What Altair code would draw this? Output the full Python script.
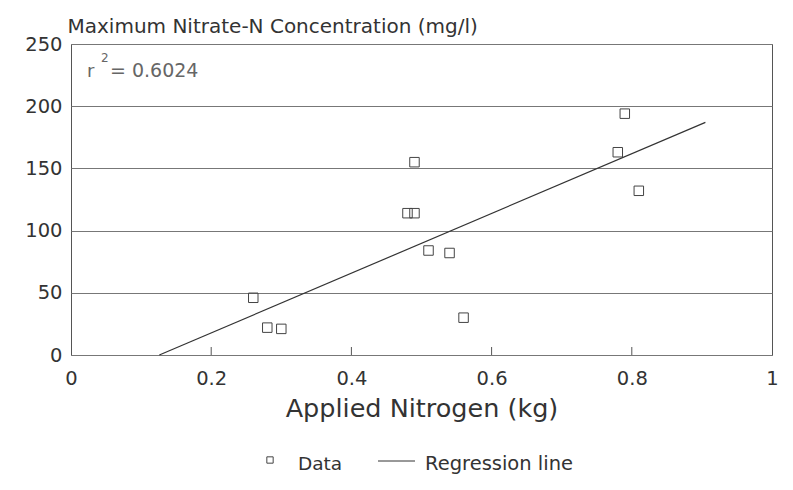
import altair as alt
import pandas as pd

# Data
applied_n = [0.26, 0.28, 0.30, 0.48, 0.49, 0.49, 0.51, 0.54, 0.56, 0.78, 0.79, 0.81]
nitrate = [46, 22, 21, 114, 114, 155, 84, 82, 30, 163, 194, 132]

reg_x = [0.126, 0.905]
reg_y = [0, 187]

x_ticks = [0.2, 0.4, 0.6, 0.8]
y_ticks = [0, 50, 100, 150, 200, 250]

title_text = "Maximum Nitrate-N Concentration (mg/l)"
x_title = "Applied Nitrogen (kg)"
r2_label = "= 0.6024"
legend_labels = ["Data", "Regression line"]

FONT = "DejaVu Sans"
TXT = "#333333"
W, H = 701, 311

pts = pd.DataFrame({"x": applied_n, "y": nitrate})
reg = pd.DataFrame({"x": reg_x, "y": reg_y})
ticks = pd.DataFrame({"x": x_ticks})

xscale = alt.Scale(domain=[0, 1], nice=False, zero=False)
yscale = alt.Scale(domain=[0, 250], nice=False)

xaxis = alt.Axis(values=[0, 0.2, 0.4, 0.6, 0.8, 1], format="~g", ticks=False, domain=False,
                 grid=False, labelFont=FONT, labelFontSize=19.5, labelColor=TXT,
                 labelPadding=14, labelFlush=False, title=x_title, titleFont=FONT,
                 titleFontSize=25.5, titleFontWeight="normal", titleColor=TXT, titlePadding=9)
yaxis = alt.Axis(values=y_ticks, ticks=False, domain=False, grid=True, gridColor="#777777",
                 gridWidth=1, labelFont=FONT, labelFontSize=19.5, labelColor=TXT,
                 labelPadding=9, title=title_text, titleFont=FONT, titleFontSize=20,
                 titleFontWeight="normal", titleColor=TXT, titleAngle=0, titleAlign="left",
                 titleBaseline="alphabetic", titleX=-4, titleY=-12)

line = alt.Chart(reg).mark_line(color="#333333", strokeWidth=1.2).encode(
    x=alt.X("x:Q", scale=xscale, axis=xaxis),
    y=alt.Y("y:Q", scale=yscale, axis=yaxis),
)

points = alt.Chart(pts).mark_point(shape="square", filled=False, size=90,
                                   color="#444444", strokeWidth=1, opacity=1).encode(
    x="x:Q", y="y:Q")

tick_marks = alt.Chart(ticks).mark_rule(color="#555555", strokeWidth=1).encode(
    x="x:Q", y=alt.value(H), y2=alt.value(H - 8))

r_txt = alt.Chart(pd.DataFrame({"t": ["r"]})).mark_text(
    font=FONT, fontSize=18, color="#666666", align="left", baseline="alphabetic").encode(
    x=alt.value(16), y=alt.value(33), text="t:N")
sup_txt = alt.Chart(pd.DataFrame({"t": ["2"]})).mark_text(
    font=FONT, fontSize=12, color="#666666", align="left", baseline="alphabetic").encode(
    x=alt.value(30), y=alt.value(18), text="t:N")
val_txt = alt.Chart(pd.DataFrame({"t": [r2_label]})).mark_text(
    font=FONT, fontSize=19, color="#666666", align="left", baseline="alphabetic").encode(
    x=alt.value(39), y=alt.value(33), text="t:N")

leg_sq = alt.Chart(pd.DataFrame({"t": [legend_labels[0]]})).mark_point(
    shape="square", filled=False, size=40, color="#444444", strokeWidth=1, opacity=1).encode(
    x=alt.value(199), y=alt.value(416))
leg_line = alt.Chart(pd.DataFrame({"t": [legend_labels[1]]})).mark_rule(
    color="#333333", strokeWidth=1).encode(
    x=alt.value(307), x2=alt.value(344), y=alt.value(417))
leg_t1 = alt.Chart(pd.DataFrame({"t": [legend_labels[0]]})).mark_text(
    font=FONT, fontSize=18.5, color=TXT, align="left", baseline="alphabetic").encode(
    x=alt.value(227), y=alt.value(426), text="t:N")
leg_t2 = alt.Chart(pd.DataFrame({"t": [legend_labels[1]]})).mark_text(
    font=FONT, fontSize=19.5, color=TXT, align="left", baseline="alphabetic").encode(
    x=alt.value(354), y=alt.value(426), text="t:N")

chart = alt.layer(line, points, tick_marks, r_txt, sup_txt, val_txt,
                  leg_sq, leg_line, leg_t1, leg_t2).properties(
    width=W, height=H,
    autosize=alt.AutoSizeParams(type="none"),
    padding={"left": 63, "top": 36, "right": 13, "bottom": 120},
    background="white",
).configure_view(stroke="#555555", strokeWidth=1)

chart.save("out.html", embed_options={"renderer": "svg", "actions": False})
